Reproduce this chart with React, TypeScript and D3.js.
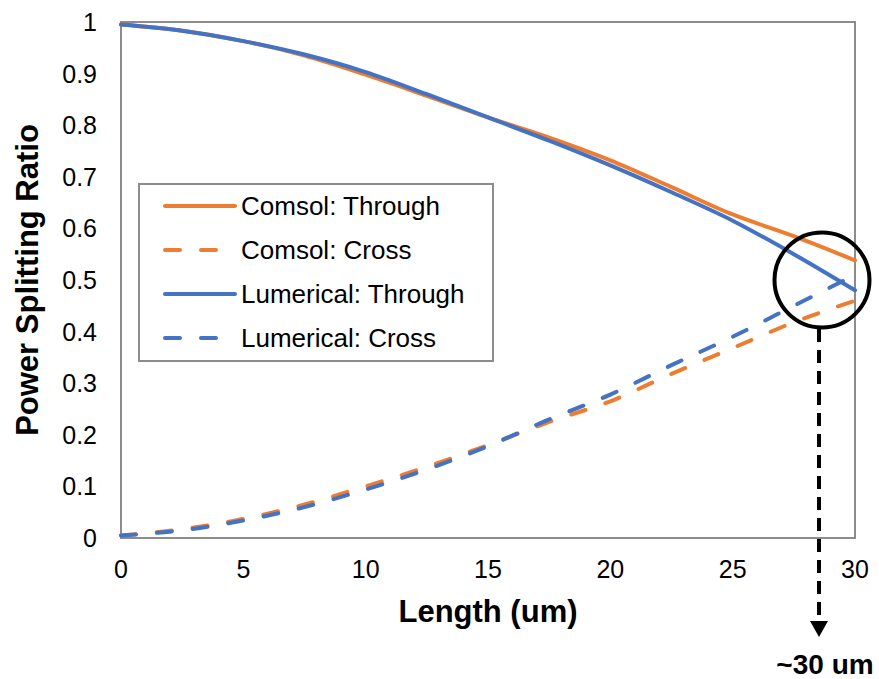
import React from "react";
import * as d3 from "d3";

const lengths = [0, 2.5, 5, 7.5, 10, 12.5, 15, 17.5, 20, 22.5, 25, 27.5, 30];
const comsolThrough = [0.995, 0.983, 0.963, 0.935, 0.898, 0.857, 0.815, 0.776, 0.732, 0.68, 0.627, 0.585, 0.538];
const comsolCross = [0.005, 0.017, 0.037, 0.065, 0.1, 0.138, 0.18, 0.225, 0.265, 0.318, 0.368, 0.418, 0.46];
const lumericalThrough = [0.995, 0.983, 0.963, 0.937, 0.903, 0.86, 0.815, 0.77, 0.722, 0.67, 0.615, 0.55, 0.48];
const lumericalCross = [0.005, 0.015, 0.034, 0.06, 0.094, 0.133, 0.178, 0.23, 0.278, 0.335, 0.39, 0.45, 0.51];

const xTicks = [0, 5, 10, 15, 20, 25, 30];
const yTicks = [0, 0.1, 0.2, 0.3, 0.4, 0.5, 0.6, 0.7, 0.8, 0.9, 1];

const ORANGE = "#ED7D31";
const BLUE = "#4472C4";

const seriesList = [
  { name: "Comsol: Through", values: comsolThrough, color: ORANGE, dashed: false },
  { name: "Comsol: Cross", values: comsolCross, color: ORANGE, dashed: true },
  { name: "Lumerical: Through", values: lumericalThrough, color: BLUE, dashed: false },
  { name: "Lumerical: Cross", values: lumericalCross, color: BLUE, dashed: true },
];

export default function App() {
  const W = 879, H = 679;
  const left = 121, right = 855, top = 22, bottom = 538;
  const x = d3.scaleLinear().domain([0, 30]).range([left, right]);
  const y = d3.scaleLinear().domain([0, 1]).range([bottom, top]);
  const font = "Liberation Sans, Arial, sans-serif";

  const line = (vals: number[]) =>
    d3
      .line<number>()
      .x((_, i) => x(lengths[i]))
      .y((v) => y(v))
      .curve(d3.curveMonotoneX)(vals) || "";

  const legendX = 139, legendY = 184, legendW = 354, legendH = 177;
  const rowYs = [206, 250, 294, 338];

  return (
    <svg width={W} height={H} style={{ position: "absolute", left: 0, top: 0, background: "#fff" }}>
      <rect x={0} y={0} width={W} height={H} fill="#fff" />
      {/* plot frame */}
      <rect x={left} y={top} width={right - left} height={bottom - top} fill="none" stroke="#8c8c8c" strokeWidth={2} />
      {/* y ticks */}
      {yTicks.map((t) => (
        <text key={"y" + t} x={97} y={y(t) + 9} textAnchor="end" fontFamily={font} fontSize={25} fill="#000">
          {d3.format("~g")(t)}
        </text>
      ))}
      {xTicks.map((t) => (
        <text key={"x" + t} x={x(t)} y={578} textAnchor="middle" fontFamily={font} fontSize={25} fill="#000">
          {t}
        </text>
      ))}
      <text x={488} y={622} textAnchor="middle" fontFamily={font} fontSize={31} fontWeight="bold">
        Length (um)
      </text>
      <text
        transform={`translate(38, ${(top + bottom) / 2}) rotate(-90)`}
        textAnchor="middle"
        fontFamily={font}
        fontSize={31}
        fontWeight="bold"
      >
        Power Splitting Ratio
      </text>
      {/* series */}
      {seriesList.map((s) => (
        <path
          key={s.name}
          d={line(s.values)}
          fill="none"
          stroke={s.color}
          strokeWidth={4}
          strokeLinecap="round"
          strokeDasharray={s.dashed ? "15 21" : undefined}
        />
      ))}
      {/* legend */}
      <rect x={legendX} y={legendY} width={legendW} height={legendH} fill="#fff" stroke="#8c8c8c" strokeWidth={2} />
      {seriesList.map((s, i) => (
        <g key={"lg" + s.name}>
          <line
            x1={165}
            x2={235}
            y1={rowYs[i]}
            y2={rowYs[i]}
            stroke={s.color}
            strokeWidth={4}
            strokeLinecap="round"
            strokeDasharray={s.dashed ? "15 21" : undefined}
          />
          <text x={241} y={rowYs[i] + 9} fontFamily={font} fontSize={26} fill="#000">
            {s.name}
          </text>
        </g>
      ))}
      {/* annotation */}
      <circle cx={822} cy={280} r={47.5} fill="none" stroke="#000" strokeWidth={4} />
      <line x1={819} x2={819} y1={329} y2={622} stroke="#000" strokeWidth={4} strokeDasharray="13 8" />
      <path d="M810,621 L828,621 L819,637 Z" fill="#000" />
      <text x={825} y={674} textAnchor="middle" fontFamily={font} fontSize={28} fontWeight="bold">
        ~30 um
      </text>
    </svg>
  );
}
